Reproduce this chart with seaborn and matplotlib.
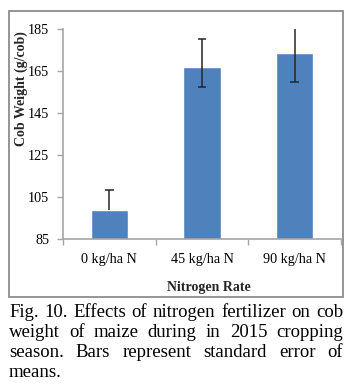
import matplotlib
matplotlib.use("Agg")
import matplotlib.pyplot as plt
import seaborn as sns
import numpy as np
import pandas as pd
from matplotlib.patches import Rectangle

# Data
categories = ["0 kg/ha N", "45 kg/ha N", "90 kg/ha N"]
cob_weight = [98.8, 166.8, 173.4]
err_low = [0.0, 9.6, 13.8]
err_high = [9.5, 13.4, 11.9]
y_ticks = [85, 105, 125, 145, 165, 185]

caption_lines = [
    "Fig. 10. Effects of nitrogen fertilizer on cob",
    "weight of maize during in 2015 cropping",
    "season. Bars represent standard error of",
    "means.",
]

sns.set_theme(style="white")
plt.rcParams["font.family"] = ["Liberation Serif", "DejaVu Serif"]

W, H = 349, 392
fig = plt.figure(figsize=(W / 100, H / 100), dpi=100)

def fx(px):
    return px / W

def fy(py):
    return 1 - py / H

ax = fig.add_axes([fx(63), fy(239), fx(341) - fx(63), fy(29) - fy(239)])

df = pd.DataFrame({"rate": categories, "weight": cob_weight})
sns.barplot(data=df, x="rate", y="weight", color="#4F81BD", saturation=1,
            width=0.4, errorbar=None, ax=ax, zorder=2)

# Standard-error whiskers, capped only on the sides that have an error
xpos = np.arange(len(categories))
err_color = "#262626"
ax.errorbar(xpos, cob_weight, yerr=[err_low, err_high], fmt="none",
            ecolor=err_color, elinewidth=1.1, capsize=0, zorder=3)
cap_half = 0.045
for x, m, lo, hi in zip(xpos, cob_weight, err_low, err_high):
    if hi > 0:
        ax.hlines(m + hi, x - cap_half, x + cap_half, color=err_color,
                  linewidth=1.1, zorder=3)
    if lo > 0:
        ax.hlines(m - lo, x - cap_half, x + cap_half, color=err_color,
                  linewidth=1.1, zorder=3)

ax.set_ylim(85, 185)
ax.set_xlim(-0.5, 2.5)
ax.set_yticks(y_ticks)
ax.set_yticklabels([str(t) for t in y_ticks], fontsize=10.2)
ax.set_xticks(xpos)
ax.set_xticklabels(categories, fontsize=10.2)
ax.set_xticks([-0.5, 0.5, 1.5, 2.5], minor=True)
ax.tick_params(axis="x", which="major", length=0, pad=10, colors="black")
ax.tick_params(axis="x", which="minor", length=4, width=1, color="#a6a6a6",
               direction="out", bottom=True)
ax.tick_params(axis="y", which="major", length=4, width=1, color="#a6a6a6",
               direction="out", left=True, pad=6, labelcolor="black")
ax.set_xlabel("")
ax.set_ylabel("")
for side in ["top", "right"]:
    ax.spines[side].set_visible(False)
for side in ["left", "bottom"]:
    ax.spines[side].set_color("#a6a6a6")
    ax.spines[side].set_linewidth(1.2)

# Axis titles
fig.text(fx(21), fy(89), "Cob Weight (g/cob)", rotation=90, fontsize=10,
         fontweight="bold", ha="center", va="center")
fig.text(fx(209), fy(287), "Nitrogen Rate", fontsize=10, fontweight="bold",
         ha="center", va="center")

# Chart frame
fig.patches.append(Rectangle((fx(9), fy(297)), fx(343) - fx(9),
                             fy(11) - fy(297), transform=fig.transFigure,
                             fill=False, edgecolor="#8c8c8c", linewidth=1.3))

# Justified caption
renderer = fig.canvas.get_renderer()
left_px, right_px = 9, 343
baselines = [317, 337, 357, 377]
cap_size = 13.5
for i, (line, base) in enumerate(zip(caption_lines, baselines)):
    words = line.split()
    objs = [fig.text(0, fy(base), w, fontsize=cap_size, ha="left",
                     va="baseline", color="black") for w in words]
    widths = [o.get_window_extent(renderer).width for o in objs]
    if i < len(caption_lines) - 1 and len(words) > 1:
        gap = (right_px - left_px - sum(widths)) / (len(words) - 1)
    else:
        gap = cap_size * 100 / 72 * 0.25
    x = left_px
    for o, w in zip(objs, widths):
        o.set_x(fx(x))
        x += w + gap

fig.savefig("out.png", dpi=100)
